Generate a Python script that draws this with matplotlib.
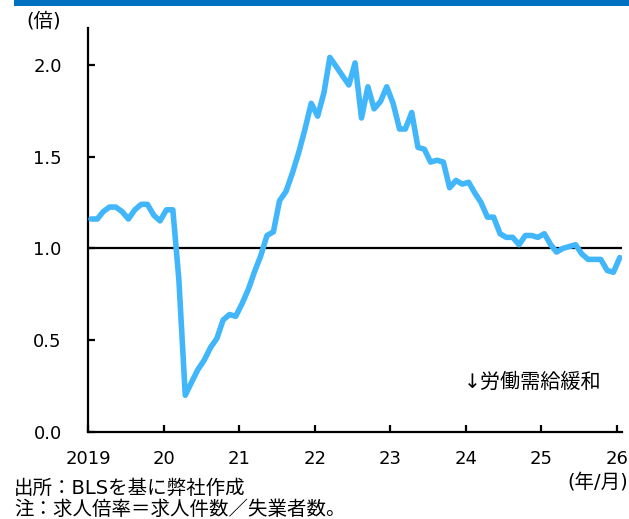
import matplotlib.pyplot as plt
import pandas as pd

plt.rcParams['font.family'] = ['DejaVu Sans', 'Noto Sans CJK JP']

# 求人倍率（月次, 2019/1〜2026/1）
ratio = [1.16, 1.16, 1.20, 1.225, 1.225, 1.20, 1.16, 1.21, 1.24, 1.24, 1.18, 1.15,
         1.21, 1.21, 0.83, 0.20, 0.27, 0.34, 0.39, 0.46, 0.51, 0.61, 0.64, 0.63,
         0.70, 0.78, 0.87, 0.96, 1.07, 1.09, 1.26, 1.31, 1.41, 1.52, 1.65, 1.79,
         1.72, 1.85, 2.04, 1.99, 1.94, 1.89, 2.01, 1.71, 1.88, 1.76, 1.80, 1.88,
         1.79, 1.65, 1.65, 1.74, 1.55, 1.54, 1.47, 1.48, 1.47, 1.33, 1.37, 1.35,
         1.36, 1.30, 1.25, 1.17, 1.17, 1.08, 1.06, 1.06, 1.02, 1.07, 1.07, 1.06,
         1.08, 1.02, 0.98, 1.00, 1.01, 1.02, 0.97, 0.94, 0.94, 0.94, 0.88, 0.87,
         0.95]
months = pd.date_range('2019-01-01', periods=len(ratio), freq='MS') + pd.Timedelta(days=14)
year_labels = ['2019', '20', '21', '22', '23', '24', '25', '26']
year_ticks = pd.date_range('2019-01-01', periods=len(year_labels), freq='YS')

fig = plt.figure(figsize=(6.29, 5.19), dpi=100)
ax = fig.add_axes([0.14, 0.1676, 0.849, 0.7784])

# 上部の青い帯
fig.add_artist(plt.Rectangle((14 / 629, 1 - 6 / 519), 1, 6 / 519,
                             transform=fig.transFigure, color='#0070C0', lw=0))

ax.plot(months, ratio, color='#41B6FA', lw=4.0, solid_joinstyle='round',
        solid_capstyle='round', zorder=3)
ax.axhline(1.0, color='black', lw=1.6, zorder=2)

ax.set_ylim(0, 2.2)
ax.set_yticks([0, 0.5, 1.0, 1.5, 2.0])
ax.set_yticklabels(['0.0', '0.5', '1.0', '1.5', '2.0'])
ax.set_xlim(pd.Timestamp('2019-01-01'), pd.Timestamp('2026-01-26'))
ax.set_xticks(year_ticks)
ax.set_xticklabels(year_labels)

for s in ['top', 'right']:
    ax.spines[s].set_visible(False)
for s in ['left', 'bottom']:
    ax.spines[s].set_linewidth(1.6)
ax.tick_params(axis='both', direction='in', length=5, width=1.6, labelsize=13)
ax.tick_params(axis='y', pad=19)
ax.tick_params(axis='x', pad=13)

fig.text(26 / 629, 1 - 21 / 519, '(倍)', fontsize=14, va='center', ha='left')
ax.text(pd.Timestamp('2024-11-20'), 0.27, '↓労働需給緩和', fontsize=14.5,
        ha='center', va='center')
fig.text(567 / 629, 1 - 482 / 519, '(年/月)', fontsize=14, va='center', ha='left')
fig.text(14 / 629, 1 - 488 / 519, '出所：BLSを基に弊社作成', fontsize=14,
         va='center', ha='left')
fig.text(14 / 629, 1 - 509 / 519, '注：求人倍率＝求人件数／失業者数。', fontsize=14,
         va='center', ha='left')

fig.savefig('out.png', dpi=100)
